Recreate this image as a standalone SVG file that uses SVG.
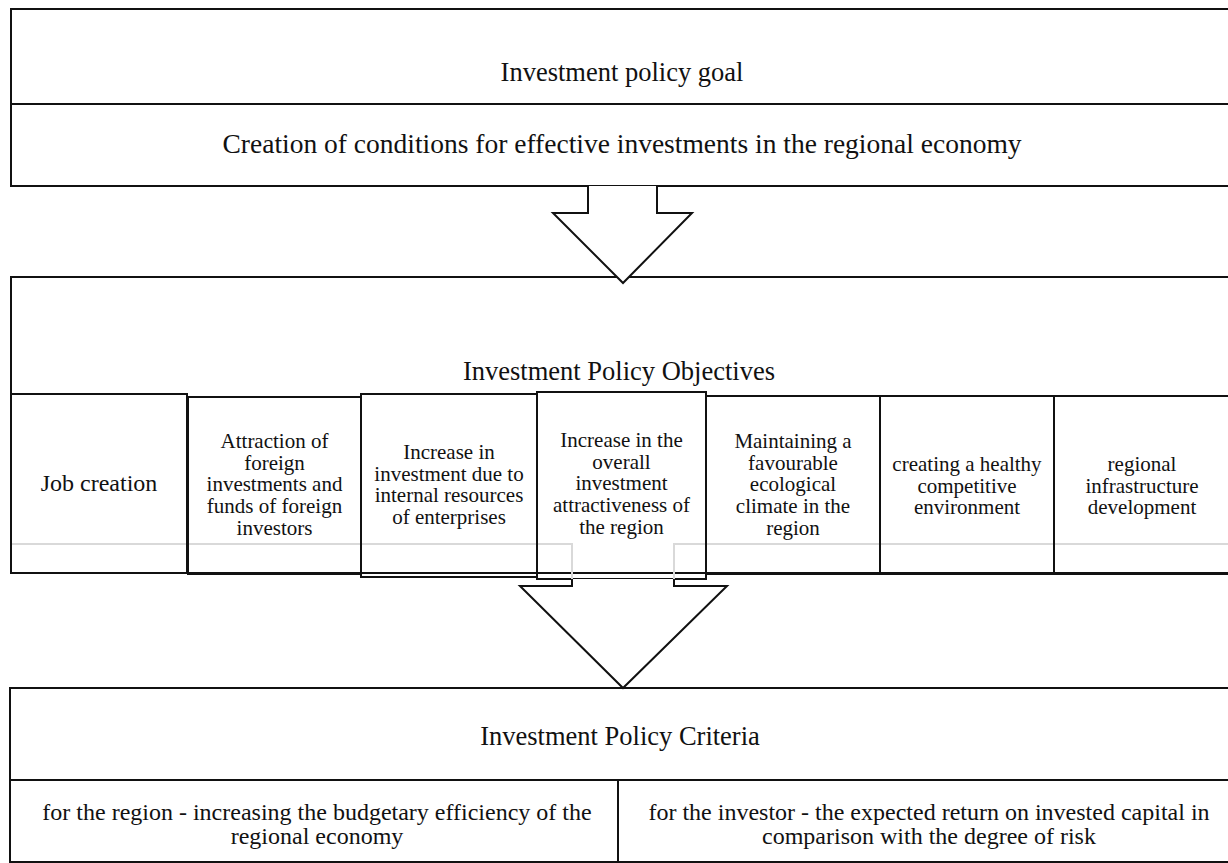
<svg xmlns="http://www.w3.org/2000/svg" width="1228" height="863" viewBox="0 0 1228 863">
<style>
.box{fill:none;stroke:#111;stroke-width:2}
.grey{fill:none;stroke:#d9d9d9;stroke-width:2}
.arrow{fill:#fff;stroke:#111;stroke-width:2;stroke-linejoin:miter}
text{font-family:"Liberation Serif","Times New Roman",serif;fill:#111;text-anchor:middle}
.t{font-size:26.5px}
.tc{font-size:27.5px}
.o{font-size:21px}
.oj{font-size:24px}
.c{font-size:24px}
</style>
<rect width="1228" height="863" fill="#fff"/>
<g id="goal">
<rect class="box" x="11" y="9" width="1230" height="177"/>
<line class="box" x1="11" y1="104" x2="1241" y2="104"/>
<text class="t" x="622" y="81">Investment policy goal</text>
<text class="tc" x="622" y="153">Creation of conditions for effective investments in the regional economy</text>
</g>
<g id="objectives">
<rect class="box" x="11" y="277" width="1230" height="296"/>
<text class="t" x="619" y="380">Investment Policy Objectives</text>
</g>
<g id="connectors">
<path class="grey" d="M11,544 H572 V580 M674,580 V544 H1241"/>
<path class="arrow" d="M588,186 V213 H553 L623,283 L692,213 H657 V186"/>
</g>
<g id="obj1"><rect class="box" x="11" y="394" width="176" height="179"/>
<text class="oj" x="99" y="491">Job creation</text></g>
<g id="obj2"><rect class="box" x="188" y="397" width="173" height="177"/>
<text class="o" x="274.5" y="448">Attraction of</text>
<text class="o" x="274.5" y="469.7">foreign</text>
<text class="o" x="274.5" y="491.4">investments and</text>
<text class="o" x="274.5" y="513.1">funds of foreign</text>
<text class="o" x="274.5" y="534.8">investors</text></g>
<g id="obj3"><rect class="box" x="361" y="394" width="176" height="183"/>
<text class="o" x="449" y="459">Increase in</text>
<text class="o" x="449" y="480.7">investment due to</text>
<text class="o" x="449" y="502.4">internal resources</text>
<text class="o" x="449" y="524.1">of enterprises</text></g>
<g id="obj5"><rect class="box" x="706" y="396" width="174" height="178"/>
<text class="o" x="793" y="448">Maintaining a</text>
<text class="o" x="793" y="469.7">favourable</text>
<text class="o" x="793" y="491.4">ecological</text>
<text class="o" x="793" y="513.1">climate in the</text>
<text class="o" x="793" y="534.8">region</text></g>
<g id="obj6"><rect class="box" x="880" y="396" width="174" height="178"/>
<text class="o" x="967" y="471">creating a healthy</text>
<text class="o" x="967" y="492.7">competitive</text>
<text class="o" x="967" y="514.4">environment</text></g>
<g id="obj7"><rect class="box" x="1054" y="396" width="190" height="178"/>
<text class="o" x="1142" y="471">regional</text>
<text class="o" x="1142" y="492.7">infrastructure</text>
<text class="o" x="1142" y="514.4">development</text></g>
<g id="obj4"><rect class="box" x="537" y="392" width="169" height="187"/>
<path class="grey" d="M572,544 V579 M674,544 V579"/>
<text class="o" x="621.5" y="447">Increase in the</text>
<text class="o" x="621.5" y="468.7">overall</text>
<text class="o" x="621.5" y="490.4">investment</text>
<text class="o" x="621.5" y="512.1">attractiveness of</text>
<text class="o" x="621.5" y="533.8">the region</text></g>
<g id="arrow2">
<path class="arrow" d="M572,579 V586 H520 L623,688 L727,586 H674 V579"/>
</g>
<g id="criteria">
<rect class="box" x="10" y="688" width="1231" height="174"/>
<line class="box" x1="10" y1="780" x2="1241" y2="780"/>
<line class="box" x1="618" y1="780" x2="618" y2="862"/>
<text class="t" x="620" y="745">Investment Policy Criteria</text>
<text class="c" x="317" y="820">for the region - increasing the budgetary efficiency of the</text>
<text class="c" x="317" y="844">regional economy</text>
<text class="c" x="929" y="820">for the investor - the expected return on invested capital in</text>
<text class="c" x="929" y="844">comparison with the degree of risk</text>
</g>
</svg>
